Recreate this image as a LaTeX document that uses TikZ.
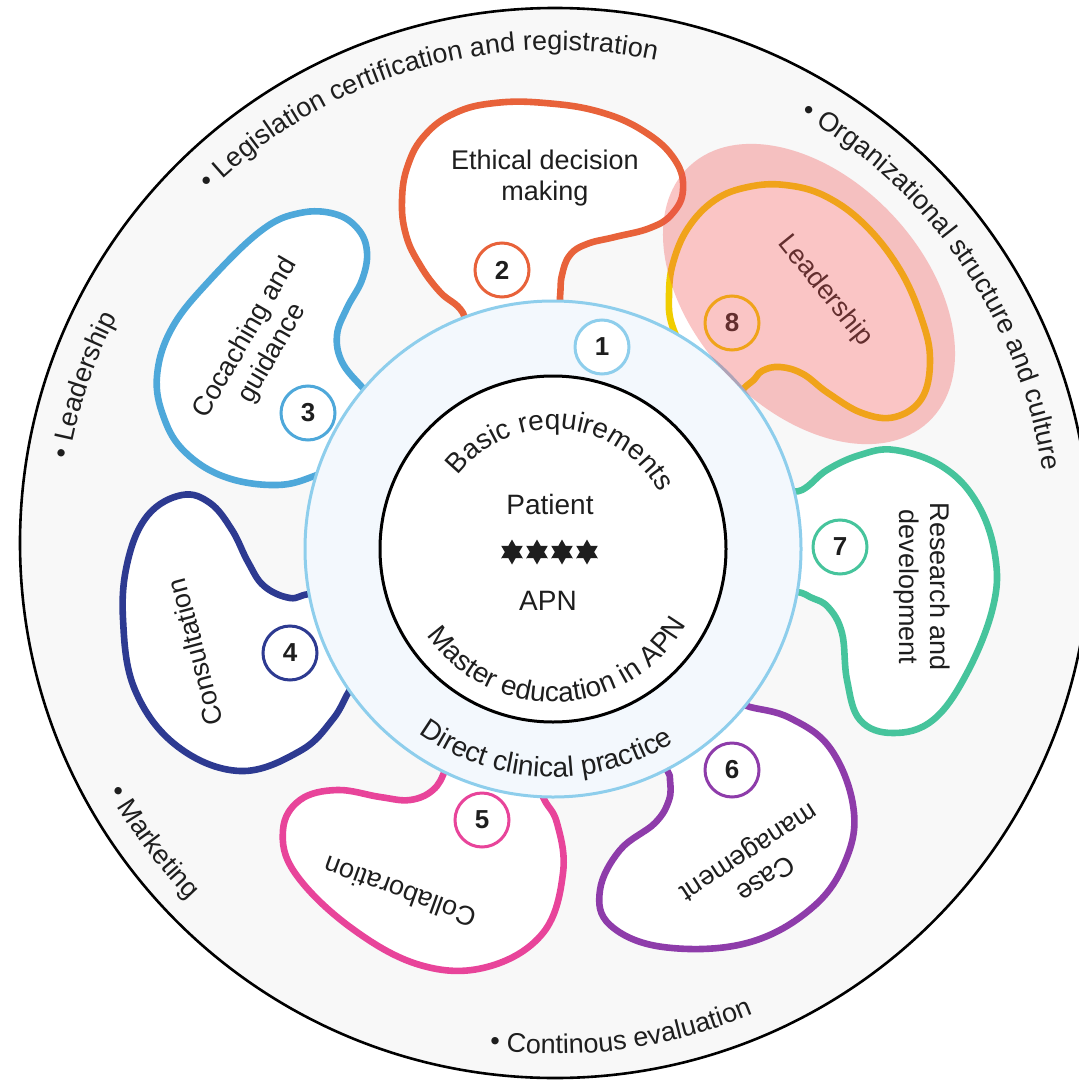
\documentclass[tikz,border=0pt]{standalone}
\usepackage{fontspec}
\setmainfont{Liberation Sans}
\usetikzlibrary{decorations.text,shapes.geometric}
\definecolor{cOrange}{RGB}{232,98,58}
\definecolor{cLBlue}{RGB}{78,168,218}
\definecolor{cDBlue}{RGB}{45,58,145}
\definecolor{cPink}{RGB}{232,68,154}
\definecolor{cPurple}{RGB}{142,60,170}
\definecolor{cGreen}{RGB}{70,196,156}
\definecolor{cYellow}{RGB}{240,205,0}
\definecolor{cRing}{RGB}{142,206,236}
\definecolor{cRingFill}{RGB}{243,248,253}
\definecolor{cBand}{RGB}{248,248,248}
\definecolor{cOverlay}{RGB}{240,80,80}
\definecolor{cText}{RGB}{30,30,30}
\newcommand\myblobfont{\fontsize{13.5}{15.5}\selectfont}
\newcommand\mynumfont{\bfseries\fontsize{13}{15}\selectfont}
\newcommand\mycorefont{\fontsize{14}{16}\selectfont}
\newcommand\myouterfont{\fontsize{13.5}{15.5}\selectfont}
\tikzset{
  blob/.style={fill=white, line width=3.3pt, line join=round},
  numcirc/.style={circle, draw=#1, line width=1.5pt, fill=white, minimum size=27pt, inner sep=0pt, font=\mynumfont, text=cText},
  blobtext/.style={align=center, font=\myblobfont, text=cText, inner sep=0pt},
  coretext/.style={font=\mycorefont, text=cText, inner sep=0pt},
  arctext/.style={decorate, decoration={text along path, text align=center, text color=cText, text={|\myouterfont|#1}}},
  corearctext/.style={decorate, decoration={text along path, text align=center, text color=cText, text={|\mycorefont|#1}}},
  starmark/.style={star, star points=6, star point ratio=1.75, fill=cText, draw=none, minimum size=12.5pt, inner sep=0pt},
}
\begin{document}
\begin{tikzpicture}[x=0.5pt, y=0.5pt]
\useasboundingbox (0,0) rectangle (1078,-1081);
\fill[white] (0,0) rectangle (1078,-1081);
% outer band
\coordinate (Co) at (555,-543);
\draw[fill=cBand, line width=1.3pt] (Co) circle[radius=535];
\begin{scope}[shift={(555,-543)}]
  \path[arctext={• Legislation certification and registration}] (146.3:493) arc[start angle=146.3, end angle=66.3, radius=493];
  \path[arctext={• Organizational structure and culture}] (76.3:493) arc[start angle=76.3, end angle=-7.7, radius=493];
  \path[arctext={• Leadership}] (181.5:493) arc[start angle=181.5, end angle=141.5, radius=493];
  \path[arctext={• Marketing}] (196.7:511) arc[start angle=196.7, end angle=236.7, radius=511];
  \path[arctext={• Continous evaluation}] (257.7:511) arc[start angle=257.7, end angle=297.7, radius=511];
\end{scope}
% blobs
\draw[blob, draw=cOrange] plot[smooth cycle, tension=0.7] coordinates {(463,-313) (440,-292) (420,-265) (406,-235) (402,-200) (408,-165) (425,-135) (455,-113) (495,-103) (545,-103) (600,-112) (645,-132) (675,-160) (683,-190) (672,-214) (650,-228) (615,-237) (587,-244) (570,-255) (562,-275) (560,-297) (556,-345) (475,-350)};
\draw[blob, draw=cLBlue] plot[smooth cycle, tension=0.65] coordinates {(362,-387) (342,-362) (337,-335) (347,-308) (362,-280) (367,-252) (358,-229) (335,-214) (300,-213) (262,-230) (210,-280) (172,-328) (157,-376) (164,-418) (185,-452) (225,-477) (277,-485) (317,-475) (360,-455) (385,-410)};
\draw[blob, draw=cDBlue] plot[smooth cycle, tension=0.65] coordinates {(313,-594) (290,-598) (264,-586) (248,-562) (232,-530) (210,-503) (182,-495) (148,-515) (128,-560) (123,-619) (135,-690) (177,-746) (240,-771) (300,-751) (333,-719) (352,-687) (380,-655) (362,-600)};
\draw[blob, draw=cPink] plot[smooth cycle, tension=0.65] coordinates {(445,-770) (433,-790) (410,-800) (380,-797) (337,-790) (300,-800) (283,-830) (295,-873) (350,-927) (420,-965) (487,-967) (543,-933) (563,-873) (557,-823) (543,-797) (530,-760) (450,-745)};
\draw[blob, draw=cPurple] plot[smooth cycle, tension=0.65] coordinates {(750,-707) (790,-718) (830,-748) (853,-805) (847,-857) (813,-907) (747,-943) (663,-947) (610,-925) (600,-890) (620,-850) (655,-823) (669,-800) (670,-780) (667,-770) (650,-740) (720,-700)};
\draw[blob, draw=cGreen] plot[smooth cycle, tension=0.65] coordinates {(802,-490) (827,-470) (860,-455) (895,-450) (943,-467) (977,-503) (995,-555) (993,-607) (967,-673) (933,-720) (893,-733) (860,-720) (847,-680) (842,-633) (828,-607) (810,-597) (802,-593) (770,-580) (770,-500)};
\draw[blob, draw=cYellow] plot[smooth cycle, tension=0.65] coordinates {(672,-325) (669,-295) (673,-263) (688,-228) (715,-200) (748,-187) (785,-185) (825,-196) (865,-225) (900,-270) (922,-320) (930,-360) (922,-398) (895,-417) (862,-413) (828,-393) (803,-374) (780,-367) (762,-371) (750,-383) (720,-400) (690,-360)};
% ring and core
\coordinate (C) at (553,-549);
\draw[fill=cRingFill, draw=cRing, line width=1.5pt] (C) circle[radius=248];
\draw[fill=white, draw=black, line width=1.5pt] (C) circle[radius=173];
\begin{scope}[shift={(553,-549)}]
  \path[corearctext={Basic requirements}] (145:120) arc[start angle=145, end angle=25, radius=120];
  \path[corearctext={Master education in APN}] (202.5:153) arc[start angle=202.5, end angle=342.5, radius=153];
  \path[corearctext={Direct clinical practice}] (208:228) arc[start angle=208, end angle=328, radius=228];
\end{scope}
\node[coretext] (patient) at (550,-504) {Patient};
\node[coretext] (apn) at (548,-601) {APN};
\node[starmark] (s1) at (512,-552) {};
\node[starmark] (s2) at (537,-552) {};
\node[starmark] (s3) at (562,-552) {};
\node[starmark] (s4) at (587,-552) {};
% numbers
\node[numcirc=cRing] (n1) at (602,-347) {1};
\node[numcirc=cOrange] (n2) at (502,-270) {2};
\node[numcirc=cLBlue] (n3) at (308,-413) {3};
\node[numcirc=cDBlue] (n4) at (290,-653) {4};
\node[numcirc=cPink] (n5) at (482,-820) {5};
\node[numcirc=cPurple] (n6) at (732,-770) {6};
\node[numcirc=cGreen] (n7) at (840,-547) {7};
\node[numcirc=cYellow] (n8) at (732,-323) {8};
% blob texts
\node[blobtext] (t2) at (545,-178) {Ethical decision\\making};
\node[blobtext, rotate=60] (t3) at (259,-346) {Cocaching and\\guidance};
\node[blobtext, rotate=105] (t4) at (195,-652) {Consultation};
\node[blobtext, rotate=160] (t5) at (400,-892) {Collaboration};
\node[blobtext, rotate=213] (t6) at (756,-864) {Case\\management};
\node[blobtext, rotate=-90] (t7) at (922,-587) {Research and\\development};
\node[blobtext, rotate=-51] (t8) at (825,-291) {Leadership};
% highlight overlay
\fill[cOverlay, fill opacity=0.33, rotate around={-47:(809,-294)}] (809,-294) ellipse[x radius=175, y radius=115];
\end{tikzpicture}
\end{document}
